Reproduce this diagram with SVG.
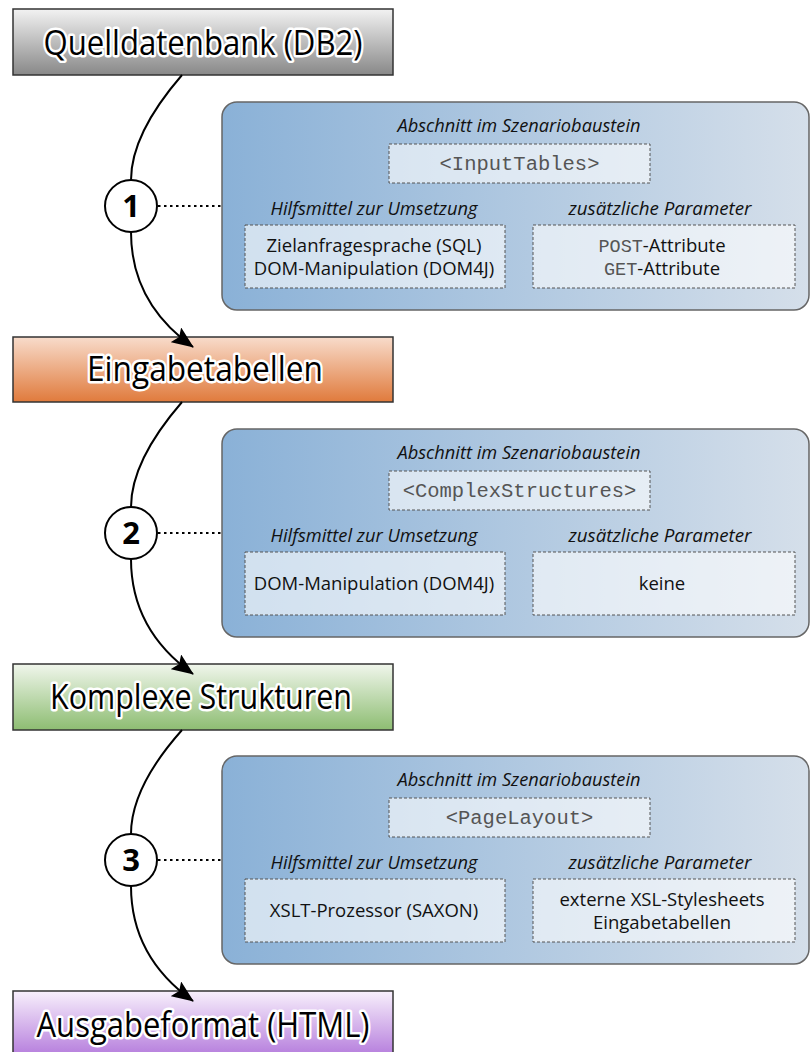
<svg xmlns="http://www.w3.org/2000/svg" width="811" height="1052" viewBox="0 0 811 1052">
<defs>
<linearGradient id="gGray" x1="0" y1="0" x2="0" y2="1"><stop offset="0" stop-color="#f2f2f2"/><stop offset="1" stop-color="#888888"/></linearGradient>
<linearGradient id="gOrange" x1="0" y1="0" x2="0" y2="1"><stop offset="0" stop-color="#f8dccb"/><stop offset="1" stop-color="#e07a3c"/></linearGradient>
<linearGradient id="gGreen" x1="0" y1="0" x2="0" y2="1"><stop offset="0" stop-color="#f0f6ec"/><stop offset="1" stop-color="#8dbd72"/></linearGradient>
<linearGradient id="gPurple" x1="0" y1="0" x2="0" y2="1"><stop offset="0" stop-color="#f8f0fc"/><stop offset="1" stop-color="#b47bdc"/></linearGradient>
<linearGradient id="gPanel" x1="0" y1="0" x2="1" y2="0"><stop offset="0" stop-color="#8ab1d7"/><stop offset="1" stop-color="#d5dfea"/></linearGradient>
<marker id="arrow" viewBox="0 0 22 18" refX="21" refY="9" markerWidth="22" markerHeight="18" markerUnits="userSpaceOnUse" orient="auto"><path d="M0,0 L22,9 L0,18 L4,9 z" fill="#000"/></marker>
</defs>
<style>
.box{stroke:#333;stroke-width:1.5}
.title{font-family:"Open Sans","Noto Sans",sans-serif;font-size:34px;fill:#000;stroke:#fff;stroke-width:5px;stroke-linejoin:round;paint-order:stroke;text-anchor:middle}
.panel{fill:url(#gPanel);stroke:#666;stroke-width:1.5}
.dbox{fill:#fff;fill-opacity:0.6;stroke:#555;stroke-width:1;stroke-dasharray:3,2}
.hdr{font-family:"Open Sans","Noto Sans",sans-serif;font-style:italic;font-size:18px;fill:#111;text-anchor:middle}
.body{font-family:"Open Sans","Noto Sans",sans-serif;font-size:18.5px;fill:#111;text-anchor:middle}
.mono{font-family:"Liberation Mono",monospace;fill:#555}
.code{font-family:"Liberation Mono",monospace;font-size:20.5px;fill:#555;text-anchor:middle}
.curve{fill:none;stroke:#000;stroke-width:2}
.dots{fill:none;stroke:#000;stroke-width:2;stroke-dasharray:2.5,3.5}
.circ{fill:#fff;stroke:#000;stroke-width:2}
.num{font-family:"Open Sans","Noto Sans",sans-serif;font-weight:bold;font-size:31px;fill:#000;text-anchor:middle}
</style>

<g id="node-quelldatenbank">
<rect class="box" x="13" y="9" width="380" height="66" fill="url(#gGray)"/>
<text class="title" x="203" y="55" textLength="319" lengthAdjust="spacingAndGlyphs">Quelldatenbank (DB2)</text>
</g>
<g id="node-eingabetabellen">
<rect class="box" x="13" y="337" width="380" height="65" fill="url(#gOrange)"/>
<text class="title" x="205" y="381" textLength="236" lengthAdjust="spacingAndGlyphs">Eingabetabellen</text>
</g>
<g id="node-komplexe-strukturen">
<rect class="box" x="13" y="664" width="380" height="66" fill="url(#gGreen)"/>
<text class="title" x="201" y="709" textLength="302" lengthAdjust="spacingAndGlyphs">Komplexe Strukturen</text>
</g>
<g id="node-ausgabeformat">
<rect class="box" x="13" y="991" width="380" height="66" fill="url(#gPurple)"/>
<text class="title" x="203" y="1037" textLength="333" lengthAdjust="spacingAndGlyphs">Ausgabeformat (HTML)</text>
</g>

<g id="node-panel1">
<rect class="panel" x="222" y="102" width="587" height="208" rx="15"/>
<text class="hdr" x="519" y="132" textLength="243" lengthAdjust="spacingAndGlyphs">Abschnitt im Szenariobaustein</text>
<rect class="dbox" x="389" y="144" width="261" height="39"/>
<text class="code" x="519.5" y="170">&lt;InputTables&gt;</text>
<text class="hdr" x="374" y="215" textLength="207" lengthAdjust="spacingAndGlyphs">Hilfsmittel zur Umsetzung</text>
<text class="hdr" x="660" y="215" textLength="183" lengthAdjust="spacingAndGlyphs">zusätzliche Parameter</text>
<rect class="dbox" x="245" y="225" width="260" height="63"/>
<rect class="dbox" x="533" y="225" width="262" height="63"/>
<text class="body" x="374" y="252">Zielanfragesprache (SQL)</text>
<text class="body" x="374" y="275">DOM-Manipulation (DOM4J)</text>
<text class="body" x="662" y="252"><tspan class="mono">POST</tspan>-Attribute</text>
<text class="body" x="662" y="275"><tspan class="mono">GET</tspan>-Attribute</text>
</g>

<g id="node-panel2">
<rect class="panel" x="222" y="429" width="587" height="208" rx="15"/>
<text class="hdr" x="519" y="459" textLength="243" lengthAdjust="spacingAndGlyphs">Abschnitt im Szenariobaustein</text>
<rect class="dbox" x="389" y="471" width="261" height="39"/>
<text class="code" x="519.5" y="497">&lt;ComplexStructures&gt;</text>
<text class="hdr" x="374" y="542" textLength="207" lengthAdjust="spacingAndGlyphs">Hilfsmittel zur Umsetzung</text>
<text class="hdr" x="660" y="542" textLength="183" lengthAdjust="spacingAndGlyphs">zusätzliche Parameter</text>
<rect class="dbox" x="245" y="552" width="260" height="63"/>
<rect class="dbox" x="533" y="552" width="262" height="63"/>
<text class="body" x="374" y="590">DOM-Manipulation (DOM4J)</text>
<text class="body" x="662" y="590">keine</text>
</g>

<g id="node-panel3">
<rect class="panel" x="222" y="756" width="587" height="208" rx="15"/>
<text class="hdr" x="519" y="786" textLength="243" lengthAdjust="spacingAndGlyphs">Abschnitt im Szenariobaustein</text>
<rect class="dbox" x="389" y="798" width="261" height="39"/>
<text class="code" x="519.5" y="824">&lt;PageLayout&gt;</text>
<text class="hdr" x="374" y="869" textLength="207" lengthAdjust="spacingAndGlyphs">Hilfsmittel zur Umsetzung</text>
<text class="hdr" x="660" y="869" textLength="183" lengthAdjust="spacingAndGlyphs">zusätzliche Parameter</text>
<rect class="dbox" x="245" y="879" width="260" height="63"/>
<rect class="dbox" x="533" y="879" width="262" height="63"/>
<text class="body" x="374" y="917">XSLT-Prozessor (SAXON)</text>
<text class="body" x="662" y="906">externe XSL-Stylesheets</text>
<text class="body" x="662" y="929">Eingabetabellen</text>
</g>

<g id="connectors">
<path class="curve" d="M182,75 C150,112 131,148 131,180"/>
<path class="curve" d="M131,232 C131,285 158,322 193,347" marker-end="url(#arrow)"/>
<path class="dots" d="M158,206 H222"/>
<path class="curve" d="M182,402 C150,439 131,475 131,507"/>
<path class="curve" d="M131,559 C131,612 158,649 193,674" marker-end="url(#arrow)"/>
<path class="dots" d="M158,533 H222"/>
<path class="curve" d="M182,730 C150,766 131,802 131,834"/>
<path class="curve" d="M131,886 C131,939 158,976 193,1001" marker-end="url(#arrow)"/>
<path class="dots" d="M158,860 H222"/>
</g>

<g id="node-step1">
<circle class="circ" cx="131" cy="206" r="26"/>
<text class="num" x="131" y="217">1</text>
</g>
<g id="node-step2">
<circle class="circ" cx="131" cy="533" r="26"/>
<text class="num" x="131" y="544">2</text>
</g>
<g id="node-step3">
<circle class="circ" cx="131" cy="860" r="26"/>
<text class="num" x="131" y="871">3</text>
</g>
</svg>
